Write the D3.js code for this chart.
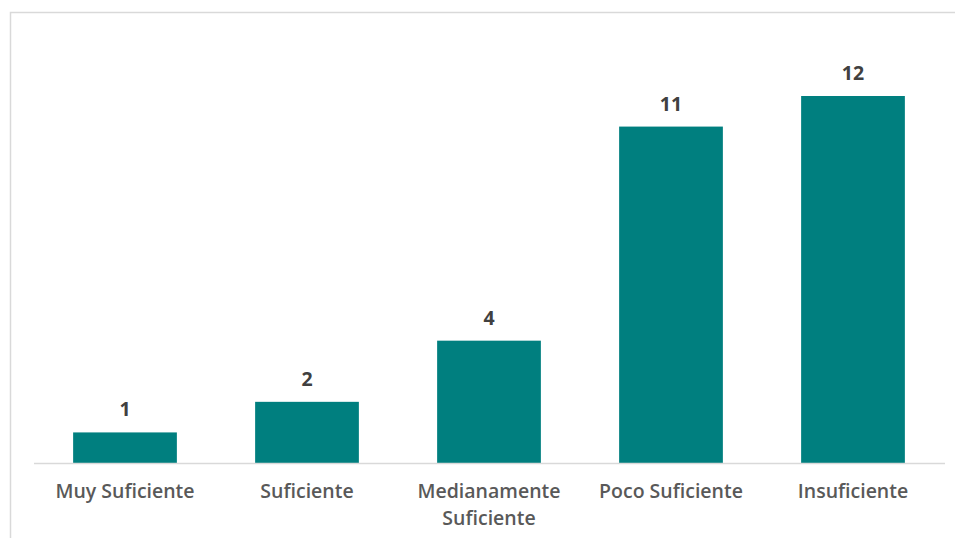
<!DOCTYPE html>
<html>
<head>
<meta charset="utf-8">
<script src="https://cdn.jsdelivr.net/npm/d3@7"></script>
<style>
  html, body { margin: 0; padding: 0; background: #fff; }
  svg { display: block; }
</style>
</head>
<body>
<svg id="chart" width="955" height="538"></svg>
<script>
const categories = [["Muy Suficiente"], ["Suficiente"], ["Medianamente", "Suficiente"], ["Poco Suficiente"], ["Insuficiente"]];
const values = [1, 2, 4, 11, 12];

const svg = d3.select("svg#chart");
const bar_color = "#007f7f";
const font = "'Open Sans', sans-serif";

// chart frame (right and bottom edges run off the picture)
svg.append("rect")
  .attr("x", 10.5)
  .attr("y", 12.5)
  .attr("width", 1000)
  .attr("height", 600)
  .attr("fill", "none")
  .attr("stroke", "#d9d9d9")
  .attr("stroke-width", 1.5);

const x = d3.scaleBand(d3.range(values.length), [34, 944])
  .paddingInner(0.43)
  .paddingOuter(0.215);
const y = d3.scaleLinear([0, 12], [463, 96]);

svg.selectAll("rect.bar")
  .data(values)
  .join("rect")
  .attr("class", "bar")
  .attr("x", (d, i) => x(i))
  .attr("y", d => y(d))
  .attr("width", x.bandwidth())
  .attr("height", d => y(0) - y(d))
  .attr("fill", bar_color);

svg.append("line")
  .attr("x1", 34)
  .attr("x2", 945)
  .attr("y1", y(0) + 0.5)
  .attr("y2", y(0) + 0.5)
  .attr("stroke", "#d9d9d9")
  .attr("stroke-width", 1.5);

svg.selectAll("text.value")
  .data(values)
  .join("text")
  .attr("class", "value")
  .attr("x", (d, i) => x(i) + x.bandwidth() / 2)
  .attr("y", d => y(d) - 16)
  .attr("text-anchor", "middle")
  .attr("font-family", font)
  .attr("font-size", 19.5)
  .attr("font-weight", "bold")
  .attr("fill", "#404040")
  .text(d => d);

// one text per label line
const cat_lines = [];
categories.forEach((lines, i) => lines.forEach((t, j) => cat_lines.push({ i, j, t })));

svg.selectAll("text.category")
  .data(cat_lines)
  .join("text")
  .attr("class", "category")
  .attr("x", d => x(d.i) + x.bandwidth() / 2)
  .attr("y", d => 498 + d.j * 26.5)
  .attr("text-anchor", "middle")
  .attr("font-family", font)
  .attr("font-size", 19.5)
  .attr("font-weight", 600)
  .attr("fill", "#595959")
  .text(d => d.t);
</script>
</body>
</html>
